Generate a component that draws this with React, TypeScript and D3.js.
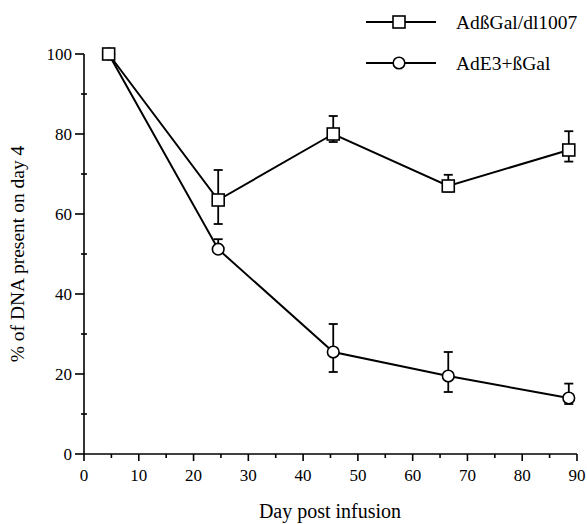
import React from 'react';
import * as d3 from 'd3';

// days post infusion
const days = [4.5, 24.5, 45.5, 66.5, 88.5];

// AdßGal/dl1007 (squares)
const galMean = [100, 63.5, 80, 67, 76];
const galHi = [100, 71, 84.5, 69.8, 80.7];
const galLo = [100, 57.5, 78, 65.6, 73.1];

// AdE3+ßGal (circles)
const e3Mean = [100, 51.2, 25.5, 19.5, 14];
const e3Hi = [100, 53.7, 32.5, 25.5, 17.6];
const e3Lo = [100, 50.5, 20.5, 15.5, 12.5];

const xTicks = [0, 10, 20, 30, 40, 50, 60, 70, 80, 90];
const xMinor = [5, 15, 25, 35, 45, 55, 65, 75, 85];
const yTicks = [0, 20, 40, 60, 80, 100];
const yMinor = [10, 30, 50, 70, 90];

const legendLabels = ['AdßGal/dl1007', 'AdE3+ßGal'];

const W = 587;
const H = 524;
const margin = { top: 54, right: 10, bottom: 70, left: 84 };
const FONT = '"Liberation Serif", "Times New Roman", serif';

const App = () => {
  const x = d3.scaleLinear().domain([0, 90]).range([margin.left, 577]);
  const y = d3.scaleLinear().domain([0, 100]).range([H - margin.bottom, margin.top]);

  const line = d3
    .line<number>()
    .x((d, i) => x(days[i]))
    .y(d => y(d));

  const series = [
    { mean: galMean, hi: galHi, lo: galLo, shape: 'square' },
    { mean: e3Mean, hi: e3Hi, lo: e3Lo, shape: 'circle' },
  ];

  const marker = (shape: string, cx: number, cy: number, key: string) =>
    shape === 'square' ? (
      <rect key={key} x={cx - 6} y={cy - 6} width={12} height={12} fill="#fff" stroke="#000" strokeWidth={1.6} />
    ) : (
      <circle key={key} cx={cx} cy={cy} r={5.8} fill="#fff" stroke="#000" strokeWidth={1.6} />
    );

  const y0 = y(0);
  const x0 = x(0);

  return (
    <svg width={W} height={H} style={{ position: 'absolute', left: 0, top: 0, background: '#fff' }}>
      {/* axes */}
      <g stroke="#000" strokeWidth={1.6} fill="none">
        <line x1={x0} x2={x(90)} y1={y0} y2={y0} />
        <line x1={x0} x2={x0} y1={y0} y2={y(100)} />
        {xTicks.map(t => (
          <line key={'xt' + t} x1={x(t)} x2={x(t)} y1={y0} y2={y0 + 7} />
        ))}
        {xMinor.map(t => (
          <line key={'xm' + t} x1={x(t)} x2={x(t)} y1={y0} y2={y0 + 4} />
        ))}
        {yTicks.map(t => (
          <line key={'yt' + t} x1={x0 - 9} x2={x0} y1={y(t)} y2={y(t)} />
        ))}
        {yMinor.map(t => (
          <line key={'ym' + t} x1={x0 - 3} x2={x0 + 3} y1={y(t)} y2={y(t)} />
        ))}
      </g>
      <g fontFamily={FONT} fontSize={17} fill="#000">
        {xTicks.map(t => (
          <text key={'xl' + t} x={x(t)} y={y0 + 27} textAnchor="middle">
            {t}
          </text>
        ))}
        {yTicks.map(t => (
          <text key={'yl' + t} x={x0 - 12} y={y(t)} dy="0.35em" textAnchor="end">
            {t}
          </text>
        ))}
      </g>
      <text x={330} y={518} textAnchor="middle" fontFamily={FONT} fontSize={20}>
        Day post infusion
      </text>
      <text
        transform={`translate(24,${(y(0) + y(100)) / 2}) rotate(-90)`}
        textAnchor="middle"
        fontFamily={FONT}
        fontSize={19.5}
      >
        % of DNA present on day 4
      </text>

      {/* lines, error bars, markers — circles first so the squares sit on top at day 4 */}
      {[...series].reverse().map((s, si) => (
        <g key={'s' + si}>
          <path d={line(s.mean) || ''} fill="none" stroke="#000" strokeWidth={2} />
          {s.mean.map((m, i) =>
            s.hi[i] > m || s.lo[i] < m ? (
              <g key={'e' + i} stroke="#000" strokeWidth={1.8}>
                <line x1={x(days[i])} x2={x(days[i])} y1={y(s.hi[i])} y2={y(s.lo[i])} />
                <line x1={x(days[i]) - 4.5} x2={x(days[i]) + 4.5} y1={y(s.hi[i])} y2={y(s.hi[i])} />
                <line x1={x(days[i]) - 4.5} x2={x(days[i]) + 4.5} y1={y(s.lo[i])} y2={y(s.lo[i])} />
              </g>
            ) : null
          )}
          {s.mean.map((m, i) => marker(s.shape, x(days[i]), y(m), 'm' + i))}
        </g>
      ))}

      {/* legend */}
      {series.map((s, i) => (
        <g key={'lg' + i} transform={`translate(0,${22 + i * 41})`}>
          <line x1={366} x2={436} y1={0} y2={0} stroke="#000" strokeWidth={2} />
          {marker(s.shape, 399, 0, 'lm')}
          <text x={456} y={0} dy="0.35em" fontFamily={FONT} fontSize={19.5}>
            {legendLabels[i]}
          </text>
        </g>
      ))}
    </svg>
  );
};

export default App;
